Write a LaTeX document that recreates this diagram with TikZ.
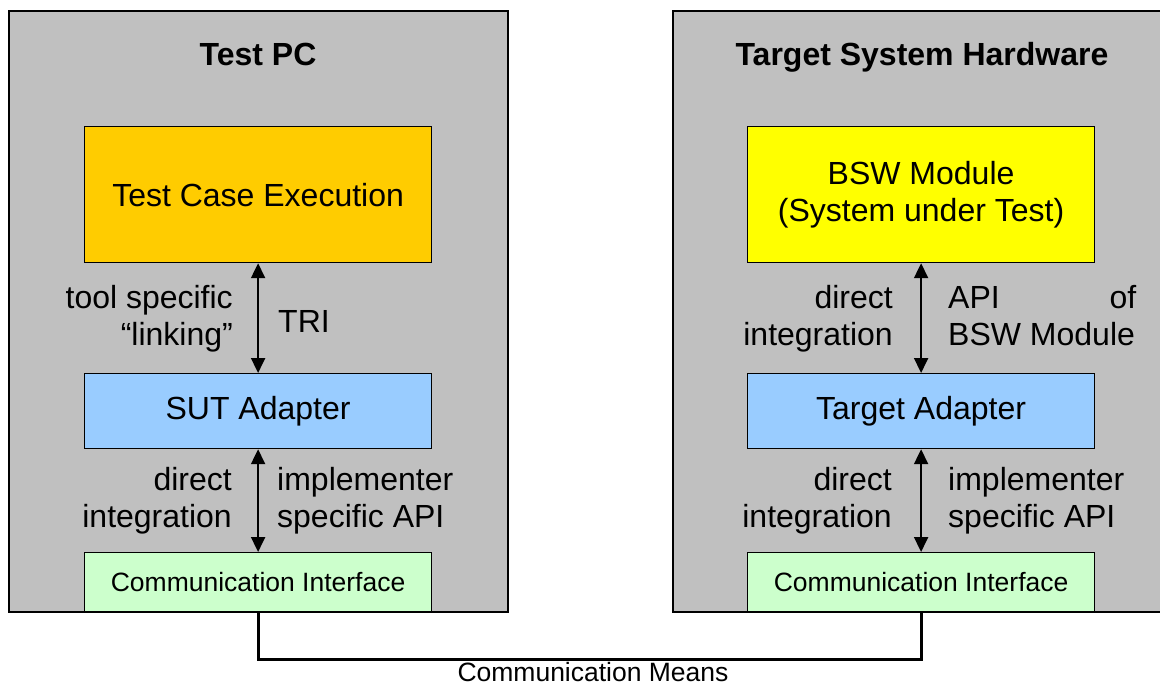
\documentclass[tikz,border=0pt]{standalone}
\usepackage{fontspec}
\setmainfont{Liberation Sans}
\usetikzlibrary{arrows.meta}
\definecolor{panelgray}{HTML}{C0C0C0}
\definecolor{tceorange}{HTML}{FFCC00}
\definecolor{bswyellow}{HTML}{FFFF00}
\definecolor{adapterblue}{HTML}{99CCFF}
\definecolor{commgreen}{HTML}{CCFFCC}
\tikzset{
  panel/.style={draw=black, line width=1.5pt, fill=panelgray, anchor=north west, inner sep=0pt},
  block/.style={draw=black, line width=1.2pt, anchor=north west, inner sep=0pt, minimum width=347pt, align=center, font=\fontsize{32pt}{37pt}\selectfont},
  commbox/.style={block, fill=commgreen, minimum height=59pt, font=\fontsize{26.5pt}{30pt}\selectfont},
  title/.style={anchor=base, font=\fontsize{32pt}{37pt}\selectfont\bfseries, inner sep=0pt},
  lbl/.style={inner sep=0pt, font=\fontsize{32pt}{37pt}\selectfont},
  dblarrow/.style={line width=2pt, {Triangle[width=14pt,length=15pt]}-{Triangle[width=14pt,length=15pt]}},
  wire/.style={line width=3pt, line join=miter}
}
\begin{document}
\begin{tikzpicture}[x=1pt,y=-1pt]
\useasboundingbox (0,0) rectangle (1160,686);
\clip (0,0) rectangle (1160,686);
% panels
\node[panel, minimum width=499pt, minimum height=601pt] (pc) at (8,10) {};
\node[panel, minimum width=500pt, minimum height=601pt] (hw) at (672,10) {};
\node[title] (pct) at (258,65) {Test PC};
\node[title] (hwt) at (922,65) {Target System Hardware};
% left blocks
\node[block, fill=tceorange, minimum height=136pt] (tce) at (84,126) {Test Case Execution};
\node[block, fill=adapterblue, minimum height=75pt] (sut) at (84,373) {SUT Adapter};
\node[commbox] (cil) at (84,552) {Communication Interface};
% right blocks
\node[block, fill=bswyellow, minimum height=136pt] (bsw) at (747,126) {BSW Module\\(System under Test)};
\node[block, fill=adapterblue, minimum height=75pt] (ta) at (747,373) {Target Adapter};
\node[commbox] (cir) at (747,552) {Communication Interface};
% arrows
\draw[dblarrow] (tce.south) -- (sut.north);
\draw[dblarrow] (sut.south) -- (cil.north);
\draw[dblarrow] (bsw.south) -- (ta.north);
\draw[dblarrow] (ta.south) -- (cir.north);
% left labels
\node[lbl, anchor=base east] (l1a) at (233,308) {tool specific};
\node[lbl, anchor=base east] (l1b) at (233,345) {“linking”};
\node[lbl, anchor=base west] (tri) at (278,332) {TRI};
\node[lbl, anchor=base east] (l2a) at (232,490) {direct};
\node[lbl, anchor=base east] (l2b) at (232,527) {integration};
\node[lbl, anchor=base west] (l2c) at (277,490) {implementer};
\node[lbl, anchor=base west] (l2d) at (277,527) {specific API};
% right labels
\node[lbl, anchor=base east] (r1a) at (893,308) {direct};
\node[lbl, anchor=base east] (r1b) at (893,345) {integration};
\node[lbl, anchor=base west] (r1c) at (948,308) {\makebox[188pt][s]{API\hfill of}};
\node[lbl, anchor=base west] (r1d) at (948,345) {BSW Module};
\node[lbl, anchor=base east] (r2a) at (892,490) {direct};
\node[lbl, anchor=base east] (r2b) at (892,527) {integration};
\node[lbl, anchor=base west] (r2c) at (948,490) {implementer};
\node[lbl, anchor=base west] (r2d) at (948,527) {specific API};
% communication means
\coordinate (cml) at (cil.south |- 0,659);
\coordinate (cmr) at (cir.south |- 0,659);
\draw[wire] (cil.south) -- (cml) -- (cmr) -- (cir.south);
\node[inner sep=0pt, anchor=base, font=\fontsize{26.5pt}{30pt}\selectfont] (cm) at (593,681) {Communication Means};
\end{tikzpicture}
\end{document}
